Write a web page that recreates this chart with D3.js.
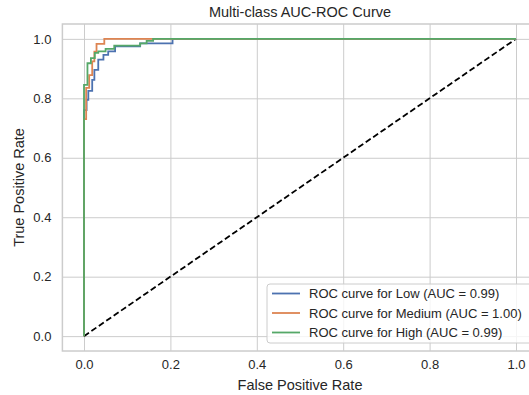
<!DOCTYPE html>
<html>
<head>
<meta charset="utf-8">
<script src="https://cdn.jsdelivr.net/npm/d3@7"></script>
<style>
  body { margin: 0; background: #fff; }
  text { font-family: "Liberation Sans", Arial, sans-serif; fill: #262626; }
</style>
</head>
<body>
<svg id="chart" width="529" height="395"></svg>
<script>
// ROC points, [fpr, tpr]
const lowRoc = [[0,0],[0,0.76],[0.006,0.76],[0.006,0.795],[0.01,0.795],[0.01,0.825],[0.019,0.825],[0.019,0.862],
  [0.024,0.862],[0.024,0.896],[0.033,0.896],[0.033,0.93],[0.045,0.93],[0.045,0.946],[0.056,0.946],[0.056,0.958],
  [0.072,0.958],[0.072,0.975],[0.13,0.975],[0.13,0.985],[0.205,0.985],[0.205,1],[1,1]]
const mediumRoc = [[0,0],[0,0.73],[0.005,0.73],[0.005,0.835],[0.012,0.835],[0.012,0.878],[0.019,0.878],[0.019,0.924],
  [0.024,0.924],[0.024,0.957],[0.029,0.957],[0.029,0.983],[0.047,0.983],[0.047,1],[1,1]]
const highRoc = [[0,0],[0,0.845],[0.008,0.845],[0.008,0.918],[0.016,0.918],[0.016,0.935],[0.025,0.935],[0.025,0.953],
  [0.033,0.953],[0.033,0.958],[0.05,0.958],[0.05,0.966],[0.07,0.966],[0.07,0.977],[0.13,0.977],[0.13,0.985],
  [0.145,0.985],[0.145,0.993],[0.16,0.993],[0.16,1],[1,1]]
const diagonal = [[0,0],[1,1]]

const classNames = ["Low", "Medium", "High"]
const aucValues = ["0.99", "1.00", "0.99"]
const classColors = ["#4c72b0", "#dd8452", "#55a868"]
const tickValues = [0, 0.2, 0.4, 0.6, 0.8, 1.0]

const svg = d3.select("#chart")

// axes box (right edge runs off the picture like the original)
let plotLeft = 62.4, plotRight = 537.6, plotTop = 24, plotBottom = 351
const x = d3.scaleLinear().domain([-0.05, 1.05]).range([plotLeft, plotRight])
const y = d3.scaleLinear().domain([-0.05, 1.05]).range([plotBottom, plotTop])

// grid
svg.append("g")
  .attr("transform", `translate(0,${plotBottom})`)
  .call(d3.axisBottom(x).tickValues(tickValues).tickSize(-(plotBottom - plotTop)).tickFormat(""))
  .call(g => g.select(".domain").remove())
  .call(g => g.selectAll("line").attr("stroke", "#cccccc").attr("stroke-width", 1))
svg.append("g")
  .attr("transform", `translate(${plotLeft},0)`)
  .call(d3.axisLeft(y).tickValues(tickValues).tickSize(-(plotRight - plotLeft)).tickFormat(""))
  .call(g => g.select(".domain").remove())
  .call(g => g.selectAll("line").attr("stroke", "#cccccc").attr("stroke-width", 1))

// spines
svg.append("rect")
  .attr("x", plotLeft).attr("y", plotTop)
  .attr("width", plotRight - plotLeft).attr("height", plotBottom - plotTop)
  .attr("fill", "none").attr("stroke", "#cccccc").attr("stroke-width", 1.5)

// tick labels
svg.append("g")
  .attr("transform", `translate(0,${plotBottom})`)
  .call(d3.axisBottom(x).tickValues(tickValues).tickSize(0).tickPadding(9).tickFormat(d3.format(".1f")))
  .call(g => g.select(".domain").remove())
  .call(g => g.selectAll("text").attr("font-size", 13).style("font-family", "Liberation Sans, Arial, sans-serif").attr("fill", "#262626"))
svg.append("g")
  .attr("transform", `translate(${plotLeft},0)`)
  .call(d3.axisLeft(y).tickValues(tickValues).tickSize(0).tickPadding(11).tickFormat(d3.format(".1f")))
  .call(g => g.select(".domain").remove())
  .call(g => g.selectAll("text").attr("font-size", 13).style("font-family", "Liberation Sans, Arial, sans-serif").attr("fill", "#262626"))

const line = d3.line().x(d => x(d[0])).y(d => y(d[1]))

// diagonal reference
svg.append("path")
  .attr("d", line(diagonal))
  .attr("fill", "none")
  .attr("stroke", "#000")
  .attr("stroke-width", 1.8)
  .attr("stroke-dasharray", "6,3")

const curves = [lowRoc, mediumRoc, highRoc]
curves.forEach((c, i) => {
  svg.append("path")
    .attr("d", line(c))
    .attr("fill", "none")
    .attr("stroke", classColors[i])
    .attr("stroke-width", 1.8)
})

// title and axis labels
svg.append("text").attr("x", 300).attr("y", 17).attr("text-anchor", "middle")
  .attr("font-size", 14.5).text("Multi-class AUC-ROC Curve")
svg.append("text").attr("x", 300).attr("y", 390).attr("text-anchor", "middle")
  .attr("font-size", 14.5).text("False Positive Rate")
svg.append("text").attr("transform", "translate(24,187.5) rotate(-90)").attr("text-anchor", "middle")
  .attr("font-size", 14.5).text("True Positive Rate")

// legend
const legend = svg.append("g").attr("transform", "translate(267,284)")
legend.append("rect")
  .attr("width", 266).attr("height", 59).attr("rx", 3)
  .attr("fill", "#fff").attr("fill-opacity", 0.8)
  .attr("stroke", "#cccccc").attr("stroke-width", 1)
classNames.forEach((name, i) => {
  let ly = 9.5 + i * 19.5
  legend.append("line")
    .attr("x1", 5).attr("x2", 33).attr("y1", ly).attr("y2", ly)
    .attr("stroke", classColors[i]).attr("stroke-width", 1.8)
  legend.append("text")
    .attr("x", 42).attr("y", ly).attr("dy", "0.35em")
    .attr("font-size", 13)
    .text(`ROC curve for ${name} (AUC = ${aucValues[i]})`)
})
</script>
</body>
</html>
